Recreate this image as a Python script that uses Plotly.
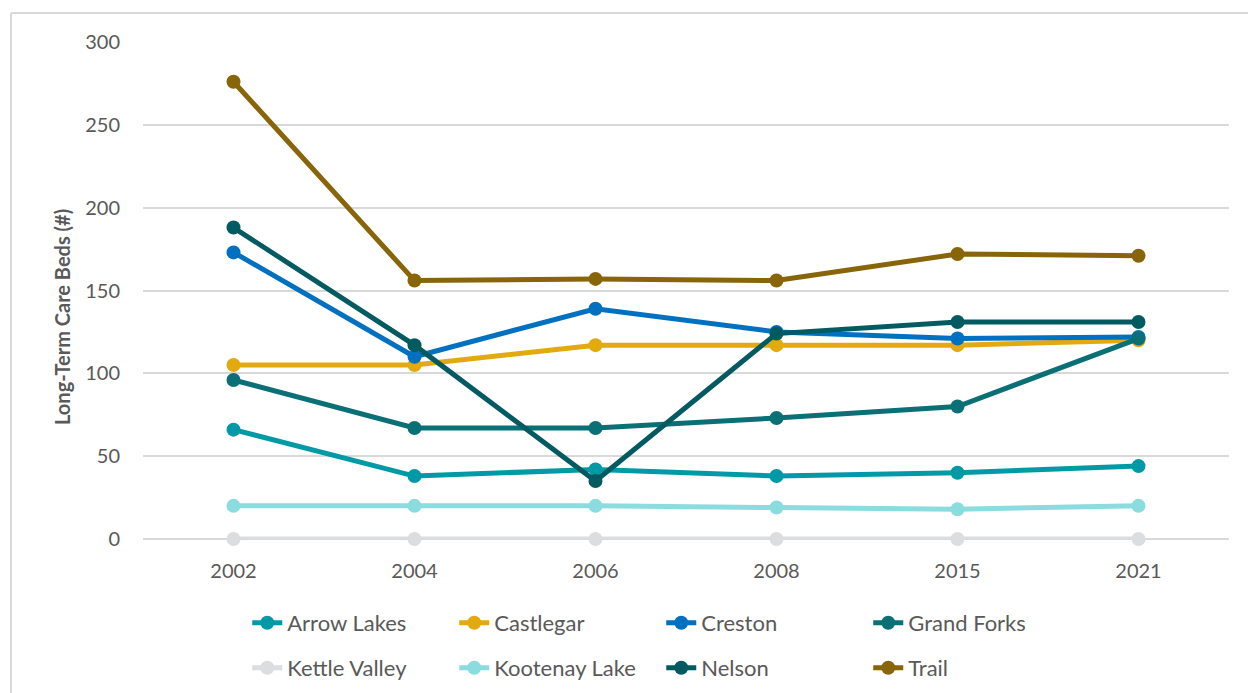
import plotly.graph_objects as go

# Survey years (categorical x axis)
years = ["2002", "2004", "2006", "2008", "2015", "2021"]

# Long-term care beds by community
arrow_lakes = [66, 38, 42, 38, 40, 44]
castlegar = [105, 105, 117, 117, 117, 120]
creston = [173, 110, 139, 125, 121, 122]
grand_forks = [96, 67, 67, 73, 80, 121]
kettle_valley = [0, 0, 0, 0, 0, 0]
kootenay_lake = [20, 20, 20, 19, 18, 20]
nelson = [188, 117, 35, 124, 131, 131]
trail = [276, 156, 157, 156, 172, 171]

series = [
    ("Arrow Lakes", arrow_lakes, "#009AA6", "legend"),
    ("Castlegar", castlegar, "#E2AA0F", "legend"),
    ("Creston", creston, "#0070C0", "legend"),
    ("Grand Forks", grand_forks, "#0B7075", "legend"),
    ("Kettle Valley", kettle_valley, "#DCDDDF", "legend2"),
    ("Kootenay Lake", kootenay_lake, "#8BDCDF", "legend2"),
    ("Nelson", nelson, "#035B61", "legend2"),
    ("Trail", trail, "#876508", "legend2"),
]

FONT = "Lato"
TEXT = "#595959"

fig = go.Figure()
for name, vals, color, leg in series:
    fig.add_trace(go.Scatter(
        x=years, y=vals, name=name, mode="lines+markers",
        line=dict(color=color, width=5),
        marker=dict(color=color, size=14),
        cliponaxis=False, legend=leg,
    ))

legend_common = dict(
    orientation="h", xanchor="left", yanchor="middle", yref="container",
    entrywidth=162, entrywidthmode="pixels",
    font=dict(family=FONT, size=22, color=TEXT),
    bgcolor="rgba(0,0,0,0)", itemclick=False,
)

fig.update_layout(
    width=1248, height=693,
    margin=dict(l=143, r=19, t=42, b=154),
    paper_bgcolor="white", plot_bgcolor="white",
    font=dict(family=FONT, color=TEXT),
    showlegend=True,
    legend=dict(x=0.096, y=1 - 623 / 693, **legend_common),
    legend2=dict(x=0.096, y=1 - 668 / 693, **legend_common),
    xaxis=dict(
        type="category", range=[-0.5, 5.5],
        showgrid=False, zeroline=False, showline=False,
        ticks="", tickfont=dict(family=FONT, size=20, color=TEXT),
        ticklabelstandoff=18,
    ),
    yaxis=dict(
        range=[0, 300], dtick=50,
        showgrid=True, gridcolor="#D9D9D9", gridwidth=1.5,
        zeroline=True, zerolinecolor="#D9D9D9", zerolinewidth=1.5,
        showline=False, ticks="",
        tickfont=dict(family=FONT, size=20, color=TEXT),
        ticklabelstandoff=22,
    ),
    annotations=[
        dict(text="<b>Long-Term Care Beds (#)</b>", textangle=-90,
             xref="paper", yref="paper", x=-81 / 1086, y=222 / 497,
             xanchor="center", yanchor="middle", showarrow=False,
             font=dict(family=FONT, size=20, color=TEXT)),
    ],
    shapes=[
        dict(type="line", xref="paper", yref="paper",
             x0=-132 / 1086, x1=1.1, y0=1 + 29 / 497, y1=1 + 29 / 497,
             line=dict(color="#D9D9D9", width=2)),
        dict(type="line", xref="paper", yref="paper",
             x0=-132 / 1086, x1=-132 / 1086, y0=1 + 29 / 497, y1=-0.5,
             line=dict(color="#D9D9D9", width=2)),
    ],
)

fig.write_html("out.html")
